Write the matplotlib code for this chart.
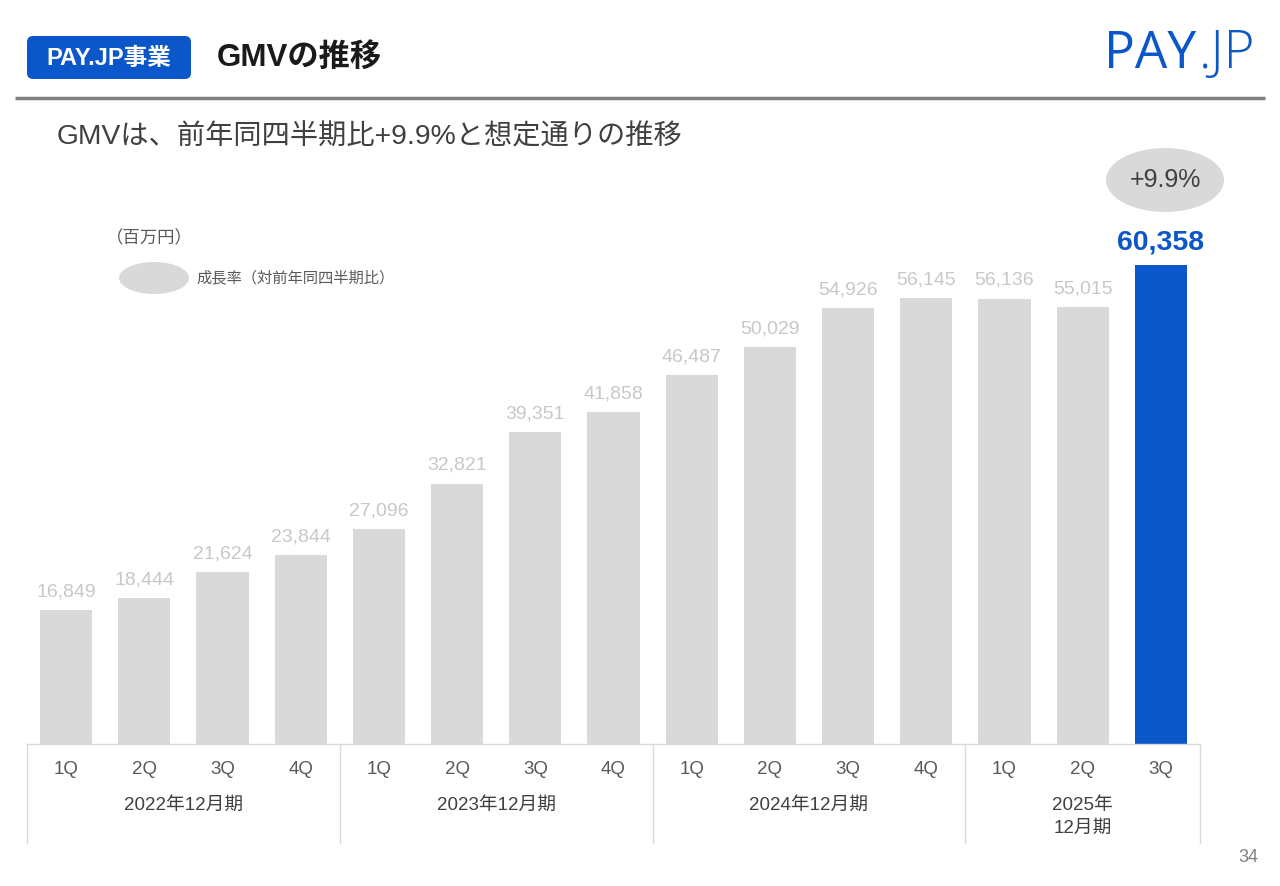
import matplotlib.pyplot as plt
from matplotlib.patches import Ellipse, FancyBboxPatch

plt.rcParams['font.family'] = ['Liberation Sans', 'Noto Sans CJK JP', 'DejaVu Sans']

# データ（百万円）
quarters = ['1Q', '2Q', '3Q', '4Q', '1Q', '2Q', '3Q', '4Q',
            '1Q', '2Q', '3Q', '4Q', '1Q', '2Q', '3Q']
years = ['2022年12月期', '2023年12月期', '2024年12月期', '2025年\n12月期']
year_counts = [4, 4, 4, 3]
gmv = [16849, 18444, 21624, 23844, 27096, 32821, 39351, 41858,
       46487, 50029, 54926, 56145, 56136, 55015, 60358]
growth = '+9.9%'

W, H = 1280, 886
fig = plt.figure(figsize=(W / 100, H / 100), dpi=100)

# 全体の飾り用 (ピクセル座標)
deco = fig.add_axes([0, 0, 1, 1])
deco.set_xlim(0, W)
deco.set_ylim(H, 0)
deco.axis('off')

blue = '#0B57C9'
box = FancyBboxPatch((27, 36), 164, 43, boxstyle='round,pad=0,rounding_size=6',
                     fc=blue, ec='none')
deco.add_patch(box)
deco.text(109, 58, 'PAY.JP事業', color='white', fontsize=17, fontweight='bold',
          ha='center', va='center')
deco.text(217, 58, 'GMVの推移', color='#1a1a1a', fontsize=22.5, fontweight='bold',
          ha='left', va='center')
deco.plot([15, 1265], [98, 98], color='#808080', lw=2.5, solid_capstyle='butt')

# ロゴ
deco.text(1104, 54, 'PAY', color=blue, fontsize=37, family=['Open Sans'],
          ha='left', va='center')
deco.text(1199, 54, '.JP', color=blue, fontsize=38, family=['Open Sans'],
          fontweight='light', ha='left', va='center')

deco.text(57, 137, 'GMVは、前年同四半期比+9.9%と想定通りの推移', color='#404040',
          fontsize=20.3, ha='left', va='center')

# 凡例
deco.text(106, 238, '（百万円）', color='#595959', fontsize=12.5, ha='left', va='center')
deco.add_patch(Ellipse((154, 278), 70, 32, fc='#D9D9D9', ec='none'))
deco.text(196, 278, '成長率（対前年同四半期比）', color='#595959', fontsize=11,
          ha='left', va='center')

# 成長率の楕円
deco.add_patch(Ellipse((1165, 180), 118, 64, fc='#D9D9D9', ec='none'))
deco.text(1165, 180, growth, color='#404040', fontsize=18, ha='center', va='center')

deco.text(1248, 857, '34', color='#808080', fontsize=13, ha='center', va='center')

# 棒グラフ
left, right, base, top = 27, 1200, 744, 200
ax = fig.add_axes([left / W, 1 - base / H, (right - left) / W, (base - top) / H])
ax.patch.set_alpha(0)
n = len(gmv)
x = list(range(n))
colors = ['#D9D9D9'] * (n - 1) + [blue]
ax.bar(x, gmv, width=0.665, color=colors)
ax.set_xlim(-0.5, n - 0.5)
ax.set_ylim(0, 68548)
ax.axis('off')

for i, v in enumerate(gmv):
    if i == n - 1:
        ax.annotate(f'{v:,}', (i, v), xytext=(0, 16), textcoords='offset points',
                    ha='center', va='center', color=blue, fontsize=20.5,
                    fontweight='bold')
    else:
        ax.annotate(f'{v:,}', (i, v), xytext=(0, 13), textcoords='offset points',
                    ha='center', va='center', color='#C8C8C8', fontsize=14)

# カテゴリ表
tr = ax.get_xaxis_transform()
hpx = base - top
def yf(py):
    return -(py - base) / hpx

ax.plot([-0.5, n - 0.5], [0, 0], transform=tr, color='#D9D9D9', lw=1,
        clip_on=False)
for i, q in enumerate(quarters):
    ax.text(i, yf(769), q, transform=tr, ha='center', va='center',
            color='#595959', fontsize=13.5)
start = -0.5
ax.plot([start, start], [0, yf(843)], transform=tr, color='#D9D9D9', lw=1,
        clip_on=False)
for yl, c in zip(years, year_counts):
    mid = start + c / 2
    ypos = yf(805) if '\n' not in yl else yf(817)
    ax.text(mid, ypos, yl, transform=tr, ha='center', va='center',
            color='#404040', fontsize=13.5, linespacing=1.45)
    start += c
    ax.plot([start, start], [0, yf(843)], transform=tr, color='#D9D9D9', lw=1,
            clip_on=False)

fig.savefig('out.png', dpi=100)
